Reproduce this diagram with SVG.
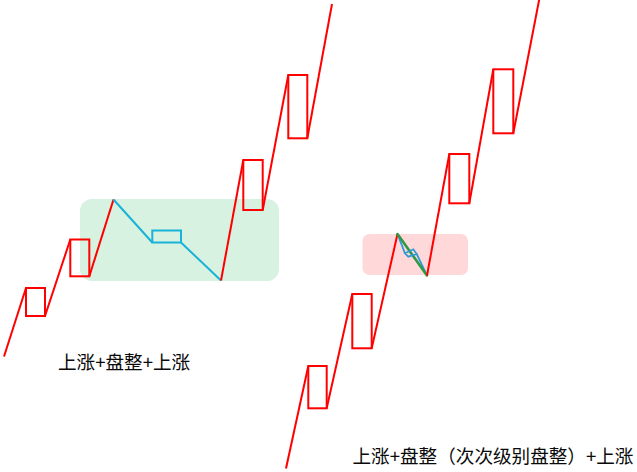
<svg xmlns="http://www.w3.org/2000/svg" width="637" height="472" viewBox="0 0 637 472">
<style>
.zone-g{fill:#d7f2e1;stroke:none}
.zone-p{fill:#ffd8d9;stroke:none}
.red{fill:none;stroke:#ff0000;stroke-width:2;stroke-linejoin:miter}
.blue{fill:none;stroke:#19b2d8;stroke-width:2}
.blue2{fill:none;stroke:#2f9ad6;stroke-width:1.8}
.green{fill:none;stroke:#2e9a48;stroke-width:2.6;stroke-linecap:round}
.lbl{font-family:"Noto Sans CJK SC","Liberation Sans",sans-serif;fill:#0a0a0a;}
</style>
<rect width="637" height="472" fill="#ffffff"/>
<g id="zone-left"><rect class="zone-g" x="80" y="199" width="199" height="82" rx="12"/></g>
<g id="zone-right"><rect class="zone-p" x="362.5" y="234" width="105.5" height="41" rx="7"/></g>
<g id="connectors">
<line class="red" x1="4" y1="356.5" x2="26" y2="288"/>
<line class="red" x1="45" y1="316" x2="70.3" y2="239.5"/>
<line class="red" x1="89.3" y1="276.3" x2="113.5" y2="199.5"/>
<polyline class="blue" points="113.5,199.5 152.3,242.5"/>
<polyline class="blue" points="181,242.5 221,280.5"/>
<line class="red" x1="221" y1="280.5" x2="243.3" y2="160"/>
<line class="red" x1="262.7" y1="210" x2="288.3" y2="75"/>
<line class="red" x1="307.3" y1="138.3" x2="332" y2="4"/>
<line class="red" x1="286" y1="468.5" x2="308.3" y2="366"/>
<line class="red" x1="326.7" y1="408.3" x2="352.3" y2="294"/>
<line class="red" x1="371.7" y1="348.3" x2="397.5" y2="234"/>
<polyline class="blue2" points="397.5,234 405,253.3"/>
<polyline class="blue2" points="416.7,254 427,275.5"/>
<line class="green" x1="397.5" y1="234" x2="427" y2="275.5"/>
<line class="red" x1="427" y1="275.5" x2="449.3" y2="154"/>
<line class="red" x1="469.3" y1="203.3" x2="493.3" y2="69.3"/>
<line class="red" x1="513.3" y1="133.3" x2="539.5" y2="-2"/>
</g>
<g id="node-l1"><rect class="red" x="26" y="288" width="19" height="28"/></g>
<g id="node-l2"><rect class="red" x="70.3" y="239.5" width="19" height="36.8"/></g>
<g id="node-l3"><rect class="blue" x="152.3" y="230.5" width="28.7" height="12"/></g>
<g id="node-l4"><rect class="red" x="243.3" y="160" width="19.4" height="50"/></g>
<g id="node-l5"><rect class="red" x="288.3" y="75" width="19" height="63.3"/></g>
<g id="node-r1"><rect class="red" x="308.3" y="366" width="18.4" height="42.3"/></g>
<g id="node-r2"><rect class="red" x="352.3" y="294" width="19.4" height="54.3"/></g>
<g id="node-r3"><polygon class="blue2" points="405,253.3 413.3,249.3 416.7,254 408.3,256.7"/></g>
<g id="node-r4"><rect class="red" x="449.3" y="154" width="20" height="49.3"/></g>
<g id="node-r5"><rect class="red" x="493.3" y="69.3" width="20" height="64"/></g>
<g id="label-left"><text class="lbl" x="58" y="368.5" font-size="18.6">上涨+盘整+上涨</text></g>
<g id="label-right"><text class="lbl" x="352.5" y="462.5" font-size="18.6">上涨+盘整（次次级别盘整）+上涨</text></g>
</svg>
